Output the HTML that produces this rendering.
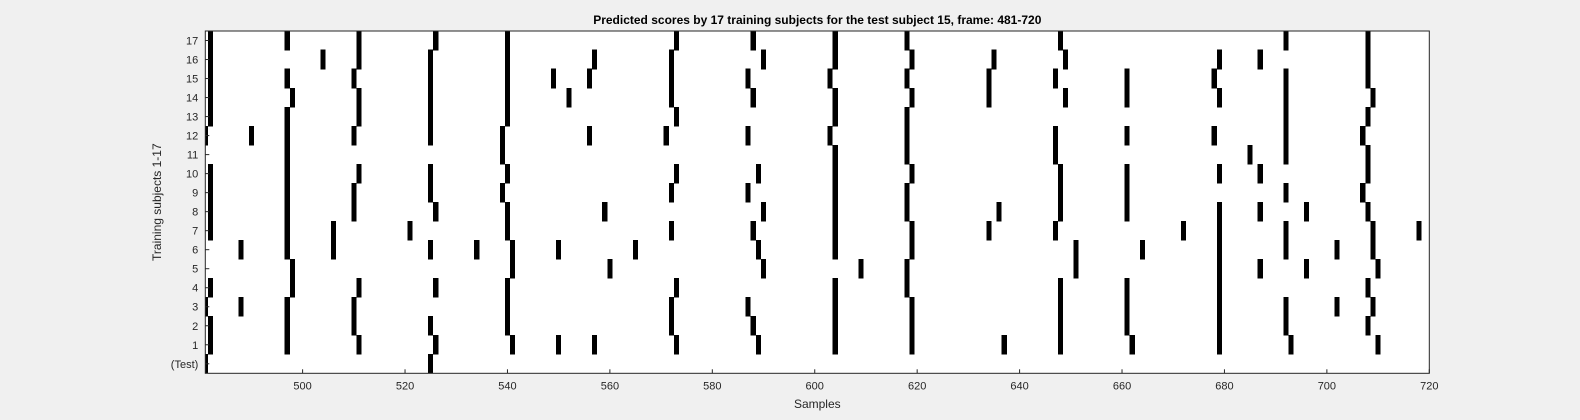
<!DOCTYPE html>
<html><head><meta charset="utf-8"><style>
body{margin:0;background:#f0f0f0;}
svg{display:block;font-family:"Liberation Sans",sans-serif;}
</style></head><body>
<svg id="chart" width="1580" height="420"></svg>
<script>
const rowLabels = ["(Test)","1","2","3","4","5","6","7","8","9","10","11","12","13","14","15","16","17"];
const xTicks = [500,520,540,560,580,600,620,640,660,680,700,720];
const rowTest = [481,525];
const row1 = [482,497,511,526,541,550,557,573,589,604,619,637,648,662,679,693,710];
const row2 = [482,497,510,525,540,572,588,604,619,648,661,679,692,708];
const row3 = [481,488,497,510,540,572,587,604,619,648,661,679,692,702,709];
const row4 = [482,498,511,526,540,573,604,618,648,661,679,708];
const row5 = [498,541,560,590,609,618,651,679,687,696,710];
const row6 = [488,497,506,525,534,541,550,565,589,604,619,651,664,679,692,702,709];
const row7 = [482,497,506,521,540,572,588,604,619,634,647,672,679,692,709,718];
const row8 = [482,497,510,526,540,559,590,604,618,636,648,661,679,687,696,708];
const row9 = [482,497,510,525,539,572,587,604,618,648,661,692,707];
const row10 = [482,497,511,525,540,573,589,604,619,648,661,679,687,708];
const row11 = [497,539,604,618,647,685,692,708];
const row12 = [481,490,497,510,525,539,556,571,587,603,618,647,661,678,692,707];
const row13 = [482,497,511,525,540,573,604,618,692,708];
const row14 = [482,498,511,525,540,552,572,588,604,619,634,649,661,679,692,709];
const row15 = [482,497,510,525,540,549,556,572,587,603,618,634,647,661,678,692,708];
const row16 = [482,504,511,525,540,557,572,590,604,619,635,649,679,687,708];
const row17 = [482,497,511,526,540,573,588,604,618,648,692,708];
const rows = [rowTest,row1,row2,row3,row4,row5,row6,row7,row8,row9,row10,row11,row12,row13,row14,row15,row16,row17];

const NS="http://www.w3.org/2000/svg";
const svg=document.getElementById('chart');
const L=205.3,R=1429.3,T=31,B=373.3;
const xMin=481,xMax=720;
const xs=v=>L+(v-xMin)*(R-L)/(xMax-xMin);
const rowH=(B-T)/rowLabels.length;
const ys=i=>B-(i+1)*rowH;
function mk(tag,attrs){const e=document.createElementNS(NS,tag);for(const k in attrs)e.setAttribute(k,attrs[k]);svg.appendChild(e);return e;}

const bg=mk('rect',{x:L,y:T,width:R-L,height:B-T,fill:'#fff'});



const cw=(R-L)/(xMax-xMin);
rows.forEach((r,i)=>{
  r.forEach(v=>{
    let x0=Math.max(L,xs(v)-cw/2), x1=Math.min(R,xs(v)+cw/2);
    const c=mk('rect',{x:x0,y:ys(i)-0.3,width:x1-x0,height:rowH+0.6,fill:'#000','shape-rendering':'crispEdges'});
    
    
  });
});

const box=mk('rect',{x:L,y:T,width:R-L,height:B-T,fill:'none',stroke:'#262626','stroke-width':1});



xTicks.forEach(t=>{
  const x=xs(t);
  const tk=mk('line',{x1:x,x2:x,y1:B,y2:B-4,stroke:'#262626'});
  
  
  const lb=mk('text',{x:x,y:B+16,'text-anchor':'middle','font-size':11,fill:'#262626'});
  lb.textContent=t;
  
  
});
rowLabels.forEach((l,i)=>{
  const y=ys(i)+rowH/2;
  const tk=mk('line',{x1:L,x2:L+4,y1:y,y2:y,stroke:'#262626'});
  
  
  const lb=mk('text',{x:L-7,y:y+4,'text-anchor':'end','font-size':11,fill:'#262626'});
  lb.textContent=l;
  
  
});
const title=mk('text',{x:(L+R)/2,y:24,'text-anchor':'middle','font-size':12,'font-weight':'bold',fill:'#000'});
title.textContent='Predicted scores by 17 training subjects for the test subject 15, frame: 481-720';


const xl=mk('text',{x:(L+R)/2,y:408,'text-anchor':'middle','font-size':12,fill:'#262626'});
xl.textContent='Samples';


const yl=mk('text',{x:0,y:0,'text-anchor':'middle','font-size':12,fill:'#262626',transform:`translate(161,${(T+B)/2}) rotate(-90)`});
yl.textContent='Training subjects 1-17';


</script>
</body></html>
